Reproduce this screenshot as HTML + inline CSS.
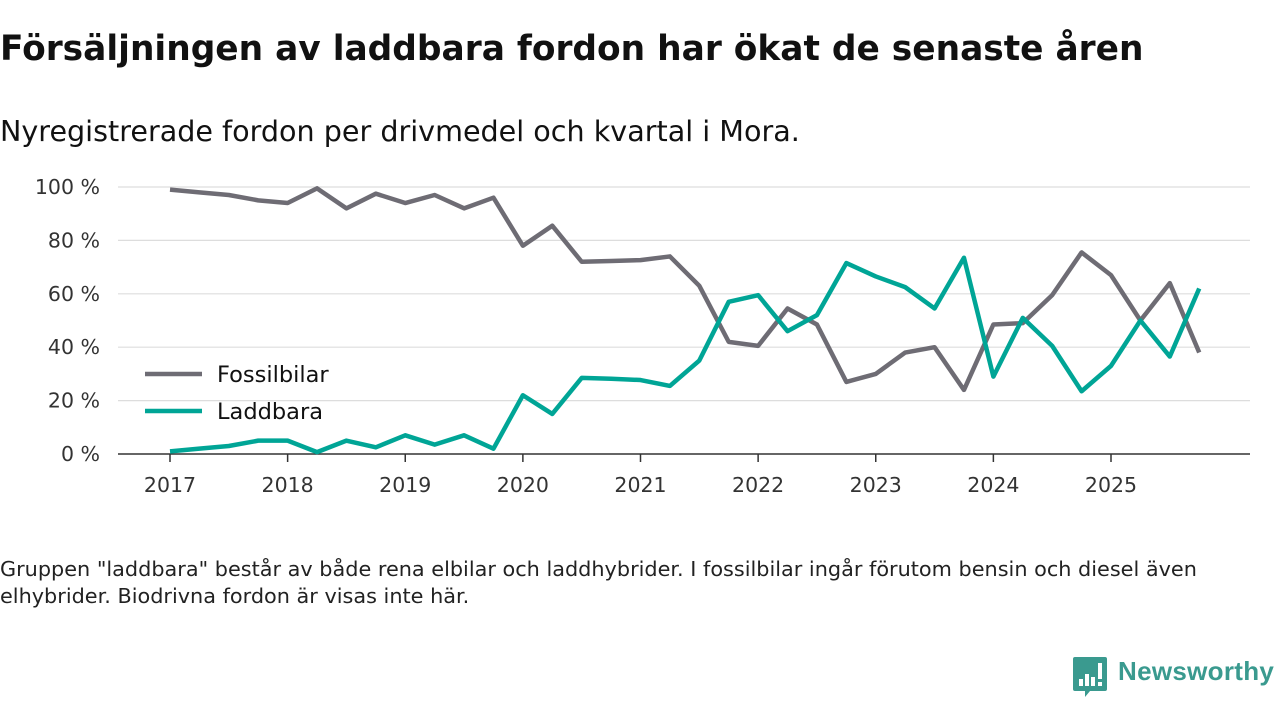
<!DOCTYPE html>
<html><head><meta charset="utf-8"><style>
body{margin:0;width:1280px;height:720px;background:#fff;font-family:"DejaVu Sans","Liberation Sans",sans-serif;color:#111;position:relative;overflow:hidden}
.t{position:absolute;left:0;white-space:nowrap}
</style></head><body>
<div class="t" style="top:29px;font-size:34.4px;font-weight:bold;">Försäljningen av laddbara fordon har ökat de senaste åren</div>
<div class="t" style="top:114px;font-size:28.6px;">Nyregistrerade fordon per drivmedel och kvartal i Mora.</div>
<svg id="c" width="1280" height="520" style="position:absolute;left:0;top:0"></svg>
<div class="t" style="top:556px;font-size:20.8px;line-height:27px;white-space:normal;width:1230px;color:#222">Gruppen "laddbara" består av både rena elbilar och laddhybrider. I fossilbilar ingår förutom bensin och diesel även elhybrider. Biodrivna fordon är visas inte här.</div>
<div style="position:absolute;left:1073px;top:657px;">
<svg width="34" height="40" viewBox="0 0 34 40"><path d="M2 0H32Q34 0 34 2V32Q34 34 32 34H17L12 40V34H2Q0 34 0 32V2Q0 0 2 0Z" fill="#3a9a8f"/><rect x="6" y="22" width="4" height="7" fill="#fff"/><rect x="12" y="17" width="4" height="12" fill="#fff"/><rect x="18" y="20" width="4" height="9" fill="#fff"/><rect x="25" y="6" width="4" height="16" fill="#fff"/><rect x="25" y="25" width="4" height="4" fill="#fff"/></svg>
<span style="position:absolute;left:45px;top:-1px;font-size:26px;color:#3a9a8f;font-family:'Liberation Sans',sans-serif;font-weight:bold;letter-spacing:0.3px">Newsworthy</span></div>
<script>
const years=["2017","2018","2019","2020","2021","2022","2023","2024","2025"];
const yTicks=[0,20,40,60,80,100];
const fossil=[99,98,97,95,94,99.5,92,97.5,94,97,92,96,78,85.5,72,72.3,72.6,74,63,42,40.5,54.5,48.5,27,30,38,40,24,48.5,49,59.5,75.5,67,50,64,38];
const ladd=[1,2,3,5,5,0.7,5,2.5,7,3.5,7,2,22,15,28.5,28.2,27.7,25.5,35,57,59.5,46,52,71.5,66.5,62.5,54.5,73.5,29,51,40.5,23.5,33,50,36.5,62];
const svg=document.getElementById('c'),NS='http://www.w3.org/2000/svg';
const x=i=>170+i*(941/32), y=v=>454-v*2.67;
function el(t,a,p){const e=document.createElementNS(NS,t);for(const k in a)e.setAttribute(k,a[k]);(p||svg).appendChild(e);return e;}
yTicks.forEach(v=>{
 const g=el('line',{x1:118,x2:1250,y1:y(v),y2:y(v),stroke:v?'#ddd':'#333','stroke-width':v?1.2:1.5});
 
 
 const t=el('text',{x:100,y:y(v)+7,'text-anchor':'end','font-size':20.5,fill:'#333'});t.textContent=v+' %';
 
 
});
years.forEach((yr,i)=>{
 const X=x(i*4);
 const l=el('line',{x1:X,x2:X,y1:454,y2:462,stroke:'#333','stroke-width':1.5});
 
 
 const t=el('text',{x:X,y:492,'text-anchor':'middle','font-size':20.5,fill:'#333'});t.textContent=yr;
 
 
});
function line(d,c,n){
 const p=el('polyline',{points:d.map((v,i)=>x(i)+','+y(v)).join(' '),fill:'none',stroke:c,'stroke-width':4.5,'stroke-linejoin':'round'});
 
 
}
line(fossil,'#6e6c74','fossilbilar-line');
line(ladd,'#00a596','laddbara-line');
[['Fossilbilar','#6e6c74',374],['Laddbara','#00a596',411]].forEach(([n,c,Y])=>{
 const l=el('line',{x1:145,x2:202,y1:Y,y2:Y,stroke:c,'stroke-width':4.5});
 
 
 const t=el('text',{x:217,y:Y+8,'font-size':22.5,fill:'#111'});t.textContent=n;
 
 
});
</script>
</body></html>
